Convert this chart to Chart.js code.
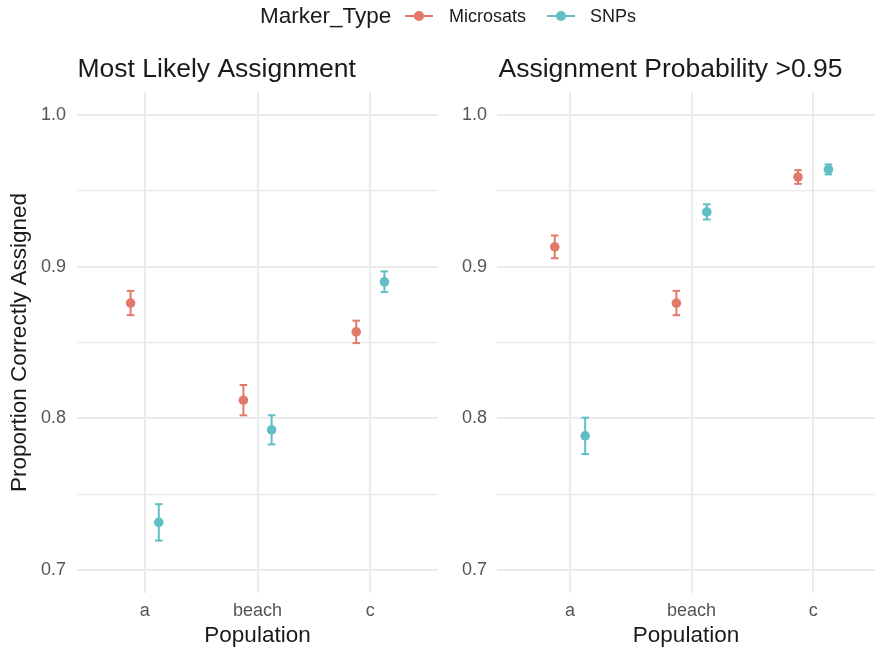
<!DOCTYPE html>
<html>
<head>
<meta charset="utf-8">
<script src="https://cdn.jsdelivr.net/npm/chart.js@4/dist/chart.umd.min.js"></script>
<style>
html,body{margin:0;padding:0;background:#fff;width:875px;height:648px;overflow:hidden;font-family:"Liberation Sans",Arial,sans-serif;position:relative;}
canvas{position:absolute;top:0;display:block;}
#c1{left:0;}
#c2{left:440px;}
.lg{position:absolute;top:0;height:32px;line-height:32px;white-space:nowrap;color:#1a1a1a;}
.sw{position:absolute;height:2px;top:15px;width:28px;}
.dot{position:absolute;width:9.4px;height:9.4px;border-radius:50%;top:11.3px;}
</style>
</head>
<body>
<canvas id="c1" width="445" height="648"></canvas>
<canvas id="c2" width="441" height="648"></canvas>
<div id="legend"></div>
<script>
// ---------- data ----------
const categories = ['a', 'beach', 'c'];
const seriesNames = ['Microsats', 'SNPs'];
const yMajorTicks = [0.7, 0.8, 0.9, 1.0];
const yMinorTicks = [0.75, 0.85, 0.95];

// Panel 1: Most Likely Assignment
const mostLikelyMicrosats    = [0.876, 0.812, 0.857];
const mostLikelyMicrosatsErr = [0.008, 0.010, 0.0074];
const mostLikelySNPs         = [0.7315, 0.7925, 0.890];
const mostLikelySNPsErr      = [0.012, 0.0096, 0.0068];

// Panel 2: Assignment Probability >0.95
const prob95Microsats    = [0.913, 0.876, 0.959];
const prob95MicrosatsErr = [0.0075, 0.008, 0.0045];
const prob95SNPs         = [0.7885, 0.936, 0.964];
const prob95SNPsErr      = [0.012, 0.005, 0.0033];

// ---------- style ----------
const COL_MICRO = 'rgb(226,122,108)';
const COL_SNP = 'rgb(96,190,198)';
const DODGE = 0.125;
const FONT = '"Liberation Sans", Arial, sans-serif';
const GRID = '#EBEBEB';
const TICK_COL = '#555555';
const TITLE_COL = '#1a1a1a';

Chart.defaults.font.family = FONT;
Chart.defaults.animation = false;

function pts(vals, shift) { return vals.map((v, i) => ({x: i + shift, y: v})); }
function bars(vals, errs, shift) {
  const out = [];
  vals.forEach((v, i) => {
    out.push({x: i + shift, y: v - errs[i]}, {x: i + shift, y: v + errs[i]}, {x: i + shift, y: null});
  });
  return out;
}

function seriesSets(vals, errs, shift, color, label) {
  return [
    {type: 'line', label: label + ' err', data: bars(vals, errs, shift), borderColor: color, borderWidth: 2,
     pointStyle: 'line', pointRadius: 3.8, pointBorderWidth: 2, pointBorderColor: color,
     spanGaps: false, fill: false, order: 2},
    {type: 'scatter', label: label, data: pts(vals, shift), backgroundColor: color, borderWidth: 0,
     pointRadius: 4.8, order: 1}
  ];
}

const panelTitle = {
  id: 'panelTitle',
  afterDraw(chart, args, opts) {
    const ctx = chart.ctx;
    ctx.save();
    ctx.font = '26.5px ' + FONT;
    ctx.fillStyle = TITLE_COL;
    ctx.textAlign = 'left';
    ctx.textBaseline = 'alphabetic';
    ctx.fillText(opts.text, chart.chartArea.left + opts.dx, opts.y);
    ctx.restore();
  }
};

function makeChart(id, title, micro, microErr, snp, snpErr, cfg) {
  new Chart(document.getElementById(id), {
    type: 'scatter',
    data: {
      datasets: [
        ...seriesSets(micro, microErr, -DODGE, COL_MICRO, seriesNames[0]),
        ...seriesSets(snp, snpErr, DODGE, COL_SNP, seriesNames[1])
      ]
    },
    options: {
      responsive: false,
      animation: false,
      layout: {padding: {top: 92, left: 0, right: cfg.padRight, bottom: 0}},
      plugins: {
        legend: {display: false},
        tooltip: {enabled: false},
        panelTitle: {text: title, y: 76.5, dx: cfg.titleDx}
      },
      scales: {
        x: {
          type: 'linear', position: 'bottom',
          min: -0.6, max: cfg.xMax,
          afterBuildTicks: s => { s.ticks = categories.map((c, i) => ({value: i})); },
          afterFit: s => { s.height = 55; },
          ticks: {
            callback: v => categories[v],
            color: TICK_COL, font: {size: 18}, padding: 7, autoSkip: false, maxRotation: 0
          },
          grid: {color: GRID, lineWidth: 2, drawTicks: false},
          border: {display: false},
          title: {display: true, text: 'Population', color: TITLE_COL,
                  font: {size: 22.5, lineHeight: 1}, padding: {top: 0, bottom: 1}}
        },
        y: {
          type: 'linear', position: 'left',
          min: 0.685, max: 1.015,
          afterBuildTicks: s => {
            s.ticks = [...yMajorTicks, ...yMinorTicks].sort((a, b) => a - b).map(v => ({value: v}));
          },
          afterFit: s => { s.width = cfg.yWidth; },
          ticks: {
            callback: v => yMajorTicks.some(t => Math.abs(t - v) < 1e-9) ? v.toFixed(1) : '',
            color: TICK_COL, font: {size: 18}, padding: cfg.yPad, autoSkip: false
          },
          grid: {
            color: GRID,
            lineWidth: c => yMajorTicks.some(t => Math.abs(t - c.tick.value) < 1e-9) ? 2 : 1.2,
            drawTicks: false
          },
          border: {display: false},
          title: {display: cfg.yTitle, text: 'Proportion Correctly Assigned', color: TITLE_COL,
                  font: {size: 22.5, lineHeight: 1}, padding: {top: 8.5, bottom: 0}}
        }
      }
    },
    plugins: [panelTitle]
  });
}

makeChart('c1', 'Most Likely Assignment',
  mostLikelyMicrosats, mostLikelyMicrosatsErr, mostLikelySNPs, mostLikelySNPsErr,
  {padRight: 7, xMax: 2.6, yWidth: 77, yPad: 11, yTitle: true, titleDx: 0.5});
makeChart('c2', 'Assignment Probability >0.95',
  prob95Microsats, prob95MicrosatsErr, prob95SNPs, prob95SNPsErr,
  {padRight: 0, xMax: 2.508, yWidth: 57, yPad: 10, yTitle: false, titleDx: 1.5});

// ---------- legend ----------
const lg = document.getElementById('legend');
function addText(txt, left, size) {
  const s = document.createElement('span');
  s.className = 'lg'; s.textContent = txt;
  s.style.left = left + 'px'; s.style.fontSize = size + 'px';
  lg.appendChild(s);
}
function addSwatch(left, color) {
  const l = document.createElement('div');
  l.className = 'sw'; l.style.left = left + 'px'; l.style.background = color;
  lg.appendChild(l);
  const d = document.createElement('div');
  d.className = 'dot'; d.style.left = (left + 14 - 4.7) + 'px'; d.style.background = color;
  lg.appendChild(d);
}
addText('Marker_Type', 260, 22.5);
addSwatch(405, COL_MICRO);
addText(seriesNames[0], 449, 18);
addSwatch(547, COL_SNP);
addText(seriesNames[1], 590, 18);
</script>
</body>
</html>
